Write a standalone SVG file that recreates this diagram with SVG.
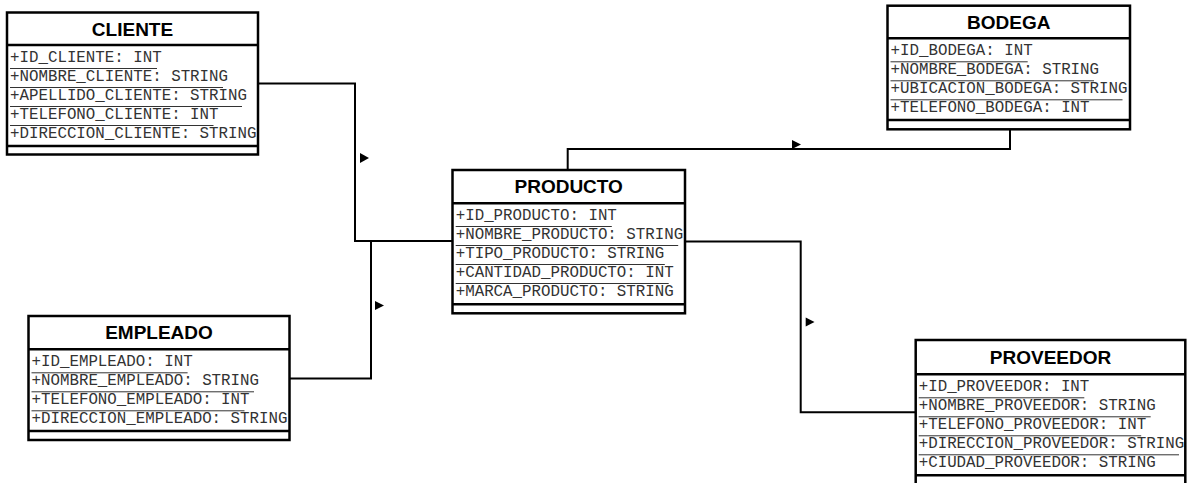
<svg xmlns="http://www.w3.org/2000/svg" width="1193" height="483" viewBox="0 0 1193 483">
<style>
.box{fill:#fff;stroke:#000;stroke-width:2.5}
.sep{stroke:#000;stroke-width:2.5}
.ul{stroke:#333;stroke-width:1}
.hd{font-family:"Liberation Sans",Arial,sans-serif;font-weight:bold;font-size:19px;fill:#000;text-anchor:middle}
.at{font-family:"Liberation Mono","Courier New",monospace;font-size:15.8px;fill:#333}
.con{fill:none;stroke:#000;stroke-width:2}
.arr{fill:#000}
</style>
<rect width="1193" height="483" fill="#fff"/>
<g id="connectors">
<path class="con" d="M258,83.5 H355 V241 H452.5"/>
<path class="con" d="M289.5,378.5 H371 V241"/>
<path class="con" d="M567.7,170 V149 H1010 V129.3"/>
<path class="con" d="M685,241.5 H800.7 V412.3 H915.7"/>
<path class="arr" d="M360,153 L369,158 L360,163 Z"/>
<path class="arr" d="M375,301 L384,305.5 L375,310 Z"/>
<path class="arr" d="M792,140 L801,144.5 L792,149 Z"/>
<path class="arr" d="M805.7,317.5 L814.5,322 L805.7,326.5 Z"/>
</g>
<g id="cliente">
<rect class="box" x="7" y="12.5" width="251" height="142"/>
<line class="sep" x1="7" y1="45" x2="258" y2="45"/>
<line class="sep" x1="7" y1="146" x2="258" y2="146"/>
<text class="hd" x="132.5" y="36">CLIENTE</text>
<text class="at" x="10" y="62">+ID_CLIENTE: INT</text>
<text class="at" x="10" y="81">+NOMBRE_CLIENTE: STRING</text>
<text class="at" x="10" y="100">+APELLIDO_CLIENTE: STRING</text>
<text class="at" x="10" y="119">+TELEFONO_CLIENTE: INT</text>
<text class="at" x="10" y="138">+DIRECCION_CLIENTE: STRING</text>
<line class="ul" x1="10" y1="68.5" x2="157" y2="68.5"/>
<line class="ul" x1="10" y1="87.5" x2="223" y2="87.5"/>
<line class="ul" x1="10" y1="106.5" x2="242" y2="106.5"/>
<line class="ul" x1="10" y1="125.5" x2="213.5" y2="125.5"/>
</g>
<g id="producto">
<rect class="box" x="452.5" y="170" width="232.5" height="143.3"/>
<line class="sep" x1="452.5" y1="203.3" x2="685" y2="203.3"/>
<line class="sep" x1="452.5" y1="304.3" x2="685" y2="304.3"/>
<text class="hd" x="568.7" y="193.3">PRODUCTO</text>
<text class="at" x="455.7" y="220">+ID_PRODUCTO: INT</text>
<text class="at" x="455.7" y="239">+NOMBRE_PRODUCTO: STRING</text>
<text class="at" x="455.7" y="258">+TIPO_PRODUCTO: STRING</text>
<text class="at" x="455.7" y="277">+CANTIDAD_PRODUCTO: INT</text>
<text class="at" x="455.7" y="296">+MARCA_PRODUCTO: STRING</text>
<line class="ul" x1="455.7" y1="226.5" x2="611.8" y2="226.5"/>
<line class="ul" x1="455.7" y1="245.5" x2="678.2" y2="245.5"/>
<line class="ul" x1="455.7" y1="264.5" x2="664.8" y2="264.5"/>
<line class="ul" x1="455.7" y1="283.5" x2="668.7" y2="283.5"/>
</g>
<g id="bodega">
<rect class="box" x="887.5" y="5.7" width="242.5" height="123.6"/>
<line class="sep" x1="887.5" y1="38.3" x2="1130" y2="38.3"/>
<line class="sep" x1="887.5" y1="120" x2="1130" y2="120"/>
<text class="hd" x="1008.7" y="28.5">BODEGA</text>
<text class="at" x="890.5" y="55.3">+ID_BODEGA: INT</text>
<text class="at" x="890.5" y="74.3">+NOMBRE_BODEGA: STRING</text>
<text class="at" x="890.5" y="93.3">+UBICACION_BODEGA: STRING</text>
<text class="at" x="890.5" y="112.3">+TELEFONO_BODEGA: INT</text>
<line class="ul" x1="890.5" y1="61.8" x2="1027.7" y2="61.8"/>
<line class="ul" x1="890.5" y1="80.8" x2="1094" y2="80.8"/>
<line class="ul" x1="890.5" y1="99.8" x2="1122.5" y2="99.8"/>
</g>
<g id="empleado">
<rect class="box" x="28.5" y="316" width="261" height="124"/>
<line class="sep" x1="28.5" y1="349.3" x2="289.5" y2="349.3"/>
<line class="sep" x1="28.5" y1="431" x2="289.5" y2="431"/>
<text class="hd" x="159" y="339.3">EMPLEADO</text>
<text class="at" x="31.5" y="366.3">+ID_EMPLEADO: INT</text>
<text class="at" x="31.5" y="385.3">+NOMBRE_EMPLEADO: STRING</text>
<text class="at" x="31.5" y="404.3">+TELEFONO_EMPLEADO: INT</text>
<text class="at" x="31.5" y="423.3">+DIRECCION_EMPLEADO: STRING</text>
<line class="ul" x1="31.5" y1="372.8" x2="187.6" y2="372.8"/>
<line class="ul" x1="31.5" y1="391.8" x2="254" y2="391.8"/>
<line class="ul" x1="31.5" y1="410.8" x2="244.5" y2="410.8"/>
</g>
<g id="proveedor">
<rect class="box" x="915.7" y="340" width="269.6" height="145"/>
<line class="sep" x1="915.7" y1="374.3" x2="1185.3" y2="374.3"/>
<line class="sep" x1="915.7" y1="475.3" x2="1185.3" y2="475.3"/>
<text class="hd" x="1050.5" y="363.5">PROVEEDOR</text>
<text class="at" x="918.7" y="391.3">+ID_PROVEEDOR: INT</text>
<text class="at" x="918.7" y="410.3">+NOMBRE_PROVEEDOR: STRING</text>
<text class="at" x="918.7" y="429.3">+TELEFONO_PROVEEDOR: INT</text>
<text class="at" x="918.7" y="448.3">+DIRECCION_PROVEEDOR: STRING</text>
<text class="at" x="918.7" y="467.3">+CIUDAD_PROVEEDOR: STRING</text>
<line class="ul" x1="918.7" y1="397.8" x2="1084.3" y2="397.8"/>
<line class="ul" x1="918.7" y1="416.8" x2="1150.7" y2="416.8"/>
<line class="ul" x1="918.7" y1="435.8" x2="1141.2" y2="435.8"/>
<line class="ul" x1="918.7" y1="454.8" x2="1179" y2="454.8"/>
</g>
</svg>
